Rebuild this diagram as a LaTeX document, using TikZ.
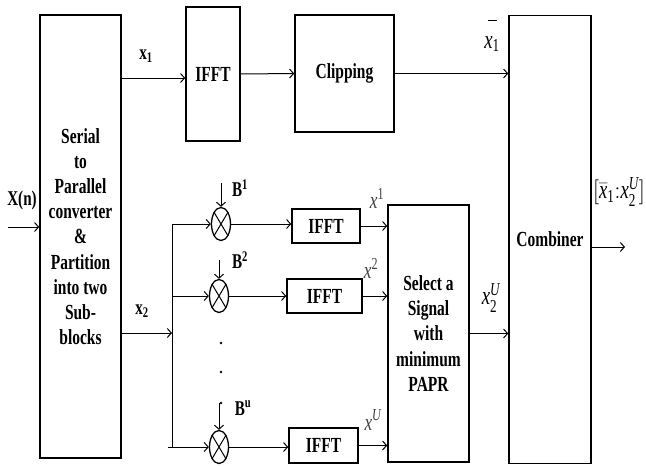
\documentclass[tikz,border=0pt]{standalone}
\usepackage{amsmath}
\usepackage{fontspec}
\setmainfont{Liberation Serif}[FakeStretch=0.72]
\usetikzlibrary{arrows.meta,shapes.geometric}
\newcommand\vx{\text{\itshape x}}
\tikzset{
  blk/.style={draw,line width=1.6pt,inner sep=0pt,align=center,
    font=\bfseries\fontsize{21.5}{25.2}\selectfont},
  mul/.style={draw,ellipse,line width=1.3pt,inner sep=0pt,minimum width=19pt,minimum height=33pt},
  arr/.style={line width=1pt,-{Straight Barb[length=4pt,width=9pt,line width=1pt]}},
  ln/.style={line width=1pt},
  lab/.style={font=\bfseries\fontsize{21}{22}\selectfont,inner sep=0pt},
  mlab/.style={font=\fontsize{26}{28}\selectfont,inner sep=0pt},
  glab/.style={font=\fontsize{24}{26}\selectfont,inner sep=0pt,text=black!75},
}
\begin{document}
\begin{tikzpicture}[x=1pt,y=-1pt]
\useasboundingbox (0,0) rectangle (646,466);
% blocks
\node[blk,minimum width=81pt,minimum height=443pt] (sp) at (80.5,236.5)
  {Serial\\to\\Parallel\\converter\\\&\\Partition\\into two\\Sub-\\blocks};
\node[blk,minimum width=54pt,minimum height=134pt] (ifa) at (213,74) {IFFT};
\node[blk,minimum width=99pt,minimum height=117pt] (clip) at (344.5,73.5) {Clipping};
\node[blk,minimum width=82pt,minimum height=448pt] (comb) at (550,239.5) {Combiner};
\node[blk,minimum width=81pt,minimum height=257pt] (sel) at (428.5,333.5)
  {Select a\\Signal\\with\\minimum\\PAPR};
\node[blk,minimum width=68pt,minimum height=34pt] (if1) at (326,226) {IFFT};
\node[blk,minimum width=75pt,minimum height=34pt] (if2) at (324.5,296) {IFFT};
\node[blk,minimum width=69pt,minimum height=35pt] (if3) at (323.5,445.5) {IFFT};
% multipliers
\node[mul] (m1) at (221,224) {};
\node[mul] (m2) at (219,296) {};
\node[mul] (m3) at (219,447) {};
\foreach \m in {m1,m2,m3}{
  \draw[line width=1pt] (\m.north west) -- (\m.south east);
  \draw[line width=1pt] (\m.north east) -- (\m.south west);
}
% coordinates
\coordinate (in) at (8,227);
\coordinate (br) at (172,333);
\coordinate (btop) at (172,224);
\coordinate (bbot) at (172,447);
\coordinate (bbotl) at (168,447);
\coordinate (bm2) at (172,296);
\coordinate (b1) at (221,183);
\coordinate (b2) at (219,260);
\coordinate (b3) at (219,403);
\coordinate (out) at (625,247);
% connectors
\draw[arr] (in) -- (sp.west |- in);
\draw[arr] (sp.east |- 0,78) -- (ifa.west |- 0,78);
\draw[arr] (ifa.east) -- (clip.west);
\draw[arr] (clip.east) -- (comb.west |- clip.east);
\draw[arr] (sp.east |- br) -- (br);
\draw[ln] (btop) -- (bbot);
\draw[arr] (btop) -- (m1.west);
\draw[arr] (bm2) -- (m2.west);
\draw[arr] (bbotl) -- (m3.west);
\draw[arr] (b1) -- (m1.north);
\draw[arr] (b2) -- (m2.north);
\draw[arr] (b3) -- (m3.north);
\draw[arr] (m1.east) -- (if1.west |- m1.east);
\draw[arr] (m2.east) -- (if2.west);
\draw[arr] (m3.east) -- (if3.west |- m3.east);
\draw[arr] (if1.east) -- (sel.west |- if1.east);
\draw[arr] (if2.east) -- (sel.west |- if2.east);
\draw[arr] (if3.east) -- (sel.west |- if3.east);
\draw[arr] (sel.east) -- (comb.west |- sel.east);
\draw[arr] (comb.east |- out) -- (out);
% dots
\foreach \y in {343,372,403} \fill (221,\y) circle (1.3pt);
% labels
\node[lab] (lxn) at (22,200) {X(n)};
\node[lab] (lx1) at (146,56) {x\textsubscript{1}};
\node[lab] (lx2) at (142,311) {x\textsubscript{2}};
\node[lab] (lb1) at (240,188) {B\textsuperscript{1}};
\node[lab] (lb2) at (240,260) {B\textsuperscript{2}};
\node[lab] (lb3) at (243,408) {B\textsuperscript{u}};
\node[mlab,align=center] (lxb1) at (492,36) {\rule{9pt}{1.2pt}\\[-1pt]$\vx_{\text{1}}$};
\node[mlab] (lxu2) at (491,298) {$\vx^{\text{\itshape U}}_{\text{2}}$};
\node[glab] (lx1s) at (377,198) {$\vx^{\text{1}}$};
\node[glab] (lx2s) at (371,268) {$\vx^{\text{2}}$};
\node[glab] (lxUs) at (373,420) {$\vx^{\text{\itshape U}}$};
\node[mlab] (lout) at (619,192) {$[\bar{\vx}_{\text{1}}{:}\vx^{\text{\itshape U}}_{\text{2}}]$};
\end{tikzpicture}
\end{document}
